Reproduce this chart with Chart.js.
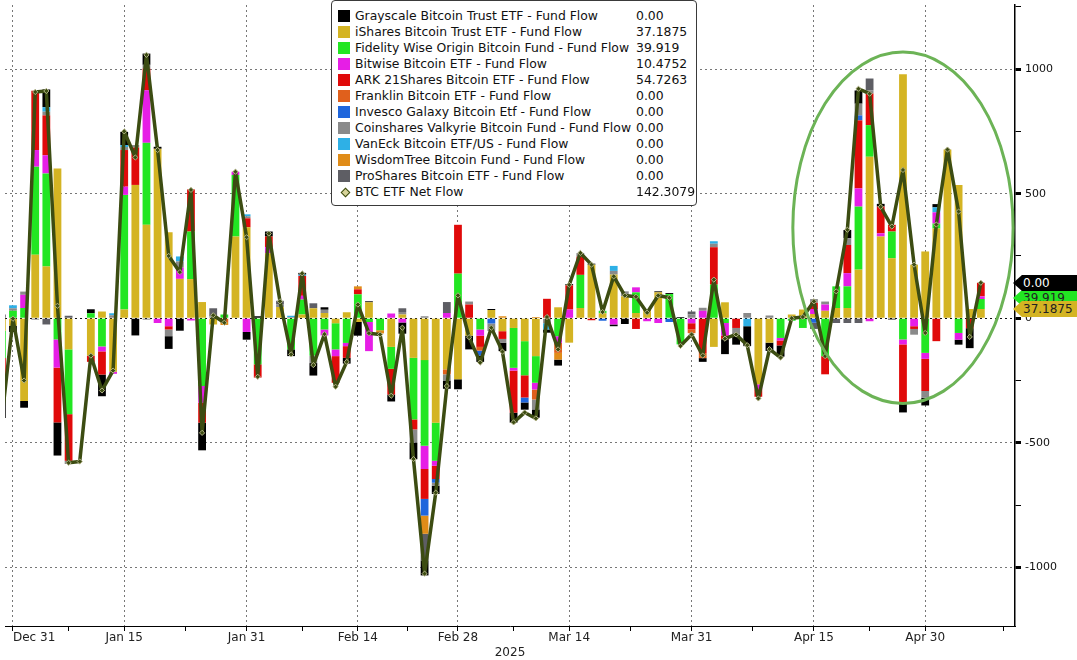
<!DOCTYPE html>
<html>
<head>
<meta charset="utf-8">
<title>BTC ETF flows</title>
<script src="https://cdn.jsdelivr.net/npm/chart.js@4.4.1/dist/chart.umd.min.js"></script>
<style>
  body { margin: 0; background: #fff; }
  #wrap { position: relative; width: 1077px; height: 660px; overflow: hidden; font-family: 'DejaVu Sans', sans-serif; }
  #legend { position: absolute; left: 331px; top: 0; width: 366px; height: 206px; box-sizing: border-box;
            border: 1px solid #3a3a3a; border-radius: 4px; background: #fff; padding-top: 7px; }
  .row { position: relative; height: 16px; line-height: 16px; font-size: 12.4px; color: #111; white-space: nowrap; }
  .sw { position: absolute; left: 6px; top: 2px; width: 12px; height: 12px; }
  .dia { position: absolute; left: 10px; top: 5px; width: 5px; height: 5px; transform: rotate(45deg);
         border: 1px solid #3c4c12; background: #d8d49a; }
  .name { position: absolute; left: 23px; }
  .val { position: absolute; left: 304px; }
  .tag { position: absolute; left: 1013px; width: 64px; height: 16px; line-height: 16px; font-size: 12px;
         padding-left: 10px; box-sizing: border-box; white-space: nowrap;
         clip-path: polygon(0 50%, 9px 0, 100% 0, 100% 100%, 9px 100%); }
</style>
</head>
<body>
<div id="wrap">
  <canvas id="flowChart" width="1077" height="660"></canvas>
  <div id="legend"></div>
</div>
<script>
// 交易日 (Bloomberg 日期, 1月9日休市只有净流入线)
const dates = ['Dec 30','Dec 31','Jan 2','Jan 3','Jan 6','Jan 7','Jan 8','Jan 9','Jan 10','Jan 13',
  'Jan 14','Jan 15','Jan 16','Jan 17','Jan 21','Jan 22','Jan 23','Jan 24','Jan 27','Jan 28',
  'Jan 29','Jan 30','Jan 31','Feb 3','Feb 4','Feb 5','Feb 6','Feb 7','Feb 10','Feb 11',
  'Feb 12','Feb 13','Feb 14','Feb 18','Feb 19','Feb 20','Feb 21','Feb 24','Feb 25','Feb 26',
  'Feb 27','Feb 28','Mar 3','Mar 4','Mar 5','Mar 6','Mar 7','Mar 10','Mar 11','Mar 12',
  'Mar 13','Mar 14','Mar 17','Mar 18','Mar 19','Mar 20','Mar 21','Mar 24','Mar 25','Mar 26',
  'Mar 27','Mar 28','Mar 31','Apr 1','Apr 2','Apr 3','Apr 4','Apr 7','Apr 8','Apr 9',
  'Apr 10','Apr 11','Apr 14','Apr 15','Apr 16','Apr 17','Apr 21','Apr 22','Apr 23','Apr 24',
  'Apr 25','Apr 28','Apr 29','Apr 30','May 1','May 2','May 5','May 6','May 7'];

const tickDates = ['Dec 31','Jan 15','Jan 31','Feb 14','Feb 28','Mar 14','Mar 31','Apr 15','Apr 30'];
const yTicks = [-1000, -750, -500, -250, 0, 250, 500, 750, 1000, 1250];

// 各基金资金流 (百万美元)
const grayscale = [-120,-25,-27,0,71,-133,0,null,16,-87,
  0,53,-69,45,8,-51,-50,0,-111,0,
  0,0,-31,8,20,0,-27,7,-50,10,
  0,-23,-55,4,0,-28,-45,-67,-60,-33,
  -33,-40,-55,-25,4,-33,-40,-29,-33,-13,
  -24,5,0,4,0,-7,-23,0,0,4,
  4,5,0,-15,0,-60,-40,-80,0,-33,
  -45,0,0,0,0,0,33,53,0,11,
  -5,-40,0,-31,13,0,-20,-80,0];
const ishares = [-50,-30,-332,255,208,601,-125,null,-150,27,
  -215,35,535,375,680,345,158,157,65,-25,
  0,328,365,0,261,45,0,15,40,21,
  -20,24,-15,64,0,-115,15,-159,-168,-419,
  -205,-245,-70,0,33,-52,-39,-92,-152,0,
  44,-98,41,215,20,175,88,21,28,104,
  0,0,0,0,-115,64,0,0,-265,-98,
  0,15,35,17,30,41,41,195,648,328,
  241,979,215,268,360,677,535,37,37.1875];
const fidelity = [-110,30,41,353,373,-85,-260,null,20,-113,
  0,460,0,329,0,0,0,191,-272,0,
  15,247,0,-185,0,0,-125,60,-150,-45,
  -105,-99,96,-15,-48,-88,0,-247,-344,-153,
  0,179,0,-45,0,0,-160,-137,-107,0,
  -72,0,133,0,10,0,0,83,0,0,
  97,-105,0,0,135,-19,0,0,0,0,
  -79,-10,-39,0,-152,87,87,253,127,0,
  107,-85,0,-139,20,0,-59,0,39.919];
const bitwise = [0,0,53,67,73,-113,0,null,0,-20,
  -8,33,0,211,-19,-32,45,-9,-67,0,
  0,13,-55,0,25,0,0,15,0,-24,
  -27,-13,0,-117,0,19,-17,0,-93,-20,
  21,0,0,-25,0,0,-11,0,-27,0,
  -27,35,0,0,0,-25,0,20,-12,-19,
  0,0,-20,30,0,-50,0,0,-20,0,
  -10,0,0,20,25,0,53,73,-12,13,
  0,-20,-32,-24,45,0,-27,0,10.4752];
const ark = [-120,0,0,238,160,-220,-187,null,-25,-93,
  0,147,150,87,0,-13,0,169,-80,0,
  0,0,36,-53,42,0,0,80,0,0,
  -107,-47,20,0,0,-103,0,-40,-120,-53,
  0,196,55,-45,0,-31,-169,-89,0,78,
  0,97,73,-8,0,0,0,-43,0,0,
  0,0,-25,-140,150,-15,-39,0,-30,0,
  -20,0,0,25,-73,0,113,273,127,107,
  27,-233,-11,-129,-92,0,0,-40,54.7263];
const franklin = [0,0,0,0,0,0,0,null,0,0,
  0,0,0,0,0,0,0,0,0,0,
  -15,0,0,0,0,0,0,0,0,0,
  0,0,0,0,0,0,0,0,0,0,
  -20,0,0,-15,0,0,0,0,-40,0,
  -40,0,0,0,0,0,0,0,0,0,
  0,0,-15,-20,0,0,0,0,0,0,
  0,0,0,0,0,0,0,0,0,0,
  0,0,0,0,0,0,0,0,0];
const invesco = [0,0,0,0,0,0,0,null,0,0,
  0,0,0,0,0,0,0,0,0,0,
  0,0,0,0,0,0,0,0,0,0,
  0,0,0,0,0,0,0,0,-67,-15,
  0,0,0,-20,-21,0,0,-20,0,0,
  0,0,0,0,-10,0,0,0,0,0,
  -15,0,0,0,0,0,0,0,0,0,
  0,0,0,-18,0,0,0,20,0,0,
  0,0,0,0,0,0,0,0,0];
const valkyrie = [0,10,13,0,15,0,-13,null,0,0,
  12,12,10,15,0,-27,25,0,0,8,
  0,0,8,0,0,10,5,0,-30,13,
  0,0,0,0,0,0,10,-53,8,-12,
  -25,0,12,0,-30,-16,0,0,-40,-20,
  0,0,15,0,0,15,20,0,0,0,
  0,0,15,12,14,0,-27,21,0,11,
  0,0,0,15,12,0,27,47,13,0,
  0,0,-23,-27,0,0,0,0,0];
const vaneck = [0,12,0,0,18,0,0,null,0,0,
  8,8,0,0,0,0,20,0,0,0,
  0,0,8,0,0,0,5,5,0,0,
  0,0,0,0,0,0,0,0,0,0,
  0,0,0,0,0,0,0,0,0,-25,
  0,0,0,0,0,20,0,0,0,0,
  0,0,0,0,10,0,0,-32,0,0,
  0,0,0,0,0,0,0,0,0,0,
  0,0,0,0,20,0,0,0,0];
const wisdomtree = [0,0,0,0,0,0,0,null,0,0,
  0,0,0,0,0,0,0,0,0,0,
  -12,0,0,0,0,0,0,0,0,0,
  0,0,12,0,-13,0,0,0,-73,0,
  0,0,0,0,0,8,0,0,5,0,
  -27,0,0,0,0,0,0,0,5,0,
  0,0,0,0,0,0,0,0,0,0,
  0,0,0,0,0,0,0,0,0,0,
  0,0,0,0,0,0,0,0,0];
const proshares = [15,0,0,-5,-25,0,10,null,0,0,
  0,0,0,-5,0,0,0,0,0,32,
  0,0,0,0,0,15,0,0,20,0,
  0,0,0,0,0,0,15,0,-107,0,
  44,0,0,0,0,0,0,0,0,0,
  0,0,0,0,0,0,0,0,0,0,
  0,0,12,0,0,0,0,0,0,0,
  0,0,0,-25,0,-19,-19,-19,47,0,
  0,0,0,0,0,0,0,0,0];
const netFlow = [-406,-2,-250,908,912,50,-580,-575,-150,-290,
  -210,750,645,1057,675,250,185,515,-460,12,
  -18,588,325,-235,340,68,-145,180,-188,-64,
  -275,-175,55,-60,-65,-311,-38,-565,-1025,-700,
  -272,92,-76,-178,-38,-134,-418,-378,-402,5,
  -125,134,262,215,25,168,91,86,22,91,
  82,-111,-65,-150,155,-82,-65,-108,-322,-124,
  -158,0,5,68,-152,108,355,921,901,447,
  368,595,215,-59,376,677,428,-75,142.3079];

// 图例顺序 (Bloomberg 面板顺序)
const funds = [
  { name: 'Grayscale Bitcoin Trust ETF - Fund Flow', data: grayscale, color: '#000000' },
  { name: 'iShares Bitcoin Trust ETF - Fund Flow', data: ishares, color: '#d4b423' },
  { name: 'Fidelity Wise Origin Bitcoin Fund - Fund Flow', data: fidelity, color: '#22e622' },
  { name: 'Bitwise Bitcoin ETF - Fund Flow', data: bitwise, color: '#e61ee6' },
  { name: 'ARK 21Shares Bitcoin ETF - Fund Flow', data: ark, color: '#e00a0a' },
  { name: 'Franklin Bitcoin ETF - Fund Flow', data: franklin, color: '#e0601c' },
  { name: 'Invesco Galaxy Bitcoin Etf - Fund Flow', data: invesco, color: '#1f66dc' },
  { name: 'Coinshares Valkyrie Bitcoin Fund - Fund Flow', data: valkyrie, color: '#8a8a8a' },
  { name: 'VanEck Bitcoin ETF/US - Fund Flow', data: vaneck, color: '#2eb0e6' },
  { name: 'WisdomTree Bitcoin Fund - Fund Flow', data: wisdomtree, color: '#e08c18' },
  { name: 'ProShares Bitcoin ETF - Fund Flow', data: proshares, color: '#5e5e64' }
];
const netName = 'BTC ETF Net Flow';
const netColor = '#3c4c12';

// 堆叠顺序: iShares 靠近零轴, Grayscale 在最外
const stackOrder = funds.slice(1).concat(funds.slice(0, 1));

const majorIdx = tickDates.map(d => dates.indexOf(d));

function fmt(v) {
  return v === 0 ? '0.00' : String(v);
}

// 图例
const legendEl = document.getElementById('legend');
legendEl.innerHTML = funds.map(f => `
  <div class="row"><span class="sw" style="background:${f.color}"></span>
  <span class="name">${f.name}</span><span class="val">${fmt(f.data[f.data.length - 1])}</span></div>`).join('') + `
  <div class="row"><span class="dia"></span>
  <span class="name">${netName}</span><span class="val">${fmt(netFlow[netFlow.length - 1])}</span></div>`;

// 绿色椭圆标注
const ringCenter = { idx: 81, val: 363 };
const ringRadius = { idx: 9.9, val: 705 };
const ringPlugin = {
  id: 'ring',
  afterDatasetsDraw(chart) {
    const { ctx, scales: { x, y } } = chart;
    const cx = x.getPixelForValue(ringCenter.idx);
    const cy = y.getPixelForValue(ringCenter.val);
    const rx = x.getPixelForValue(ringCenter.idx + ringRadius.idx) - cx;
    const ry = cy - y.getPixelForValue(ringCenter.val + ringRadius.val);
    ctx.save();
    ctx.strokeStyle = '#6cb356';
    ctx.lineWidth = 3;
    ctx.beginPath();
    ctx.ellipse(cx, cy, rx, ry, 0, 0, Math.PI * 2);
    ctx.stroke();
    ctx.restore();
  }
};

Chart.defaults.font.family = "'DejaVu Sans', sans-serif";
Chart.defaults.color = '#222';

const datasets = stackOrder.map(f => ({
  type: 'bar',
  label: f.name,
  data: f.data.map((v, i) => ({ x: i, y: v })),
  backgroundColor: f.color,
  borderWidth: 0,
  barPercentage: 0.7,
  categoryPercentage: 1
}));
datasets.push({
  type: 'line',
  label: netName,
  data: netFlow.map((v, i) => ({ x: i, y: v })),
  borderColor: netColor,
  borderWidth: 3.5,
  borderJoinStyle: 'bevel',
  tension: 0,
  pointStyle: 'rectRot',
  pointRadius: 2.6,
  pointBackgroundColor: '#3c4c12',
  pointBorderColor: '#b4b48a',
  pointBorderWidth: 1,
  order: -1
});

const chart = new Chart(document.getElementById('flowChart'), {
  type: 'bar',
  data: { datasets },
  options: {
    responsive: false,
    animation: false,
    devicePixelRatio: 1,
    layout: { padding: 0 },
    plugins: { legend: { display: false }, tooltip: { enabled: false } },
    scales: {
      x: {
        type: 'linear',
        min: 0.284,
        max: 91.07,
        stacked: true,
        offset: false,
        afterBuildTicks(scale) {
          const vals = [];
          majorIdx.forEach((v, k) => {
            const next = k < majorIdx.length - 1 ? majorIdx[k + 1] : v + 14;
            vals.push(v, (v + next) / 2);
          });
          scale.ticks = vals.map(v => ({ value: v }));
        },
        afterFit(scale) {
          scale.height = 34;
          scale.paddingLeft = 0;
          scale.paddingRight = 0;
        },
        ticks: {
          autoSkip: false,
          maxRotation: 0,
          align: 'inner',
          padding: 0,
          color: '#222',
          font: { size: 12 },
          callback: v => majorIdx.includes(v) ? dates[v] : ''
        },
        grid: {
          offset: false,
          color: c => (c.tick && majorIdx.includes(c.tick.value)) ? '#777' : 'transparent',
          tickColor: '#000',
          tickLength: 5
        },
        border: { display: true, color: '#000', width: 1, dash: [2, 3] },
        title: { display: true, text: '2025', color: '#222', font: { size: 12 }, padding: { top: 0, bottom: 0 } }
      },
      y: {
        position: 'right',
        stacked: true,
        min: -1235,
        max: 1257,
        afterBuildTicks(scale) {
          scale.ticks = yTicks.map(v => ({ value: v }));
        },
        afterFit(scale) {
          scale.width = 62;
          scale.paddingTop = 0;
          scale.paddingBottom = 0;
        },
        ticks: {
          autoSkip: false,
          padding: 4,
          color: '#111',
          font: { size: 11 },
          callback: v => v % 500 === 0 ? String(v) : ''
        },
        grid: {
          color: c => {
            if (!c.tick) return 'transparent';
            if (c.tick.value === 0) return '#111';
            return c.tick.value % 500 === 0 ? '#777' : 'transparent';
          },
          tickColor: '#000',
          tickLength: 6,
          tickWidth: c => (c.tick && c.tick.value % 500 === 0) ? 3 : 1
        },
        border: { display: true, color: '#000', width: 1.5, dash: [2, 3] }
      }
    }
  },
  plugins: [ringPlugin]
});

// 右侧最新值标签
function addTag(text, y, bg, fg, z) {
  const el = document.createElement('div');
  el.className = 'tag';
  el.textContent = text;
  el.style.top = (y - 8) + 'px';
  el.style.background = bg;
  el.style.color = fg;
  el.style.zIndex = z;
  document.getElementById('wrap').appendChild(el);
}
const last = dates.length - 1;
const goldY = chart.scales.y.getPixelForValue(ishares[last]);
addTag(fmt(fidelity[last]), goldY - 11, '#22e622', '#222', 1);
addTag(fmt(grayscale[last]), goldY - 26, '#000000', '#fff', 2);
addTag(fmt(ishares[last]), goldY, '#d4b423', '#222', 3);
</script>
</body>
</html>
